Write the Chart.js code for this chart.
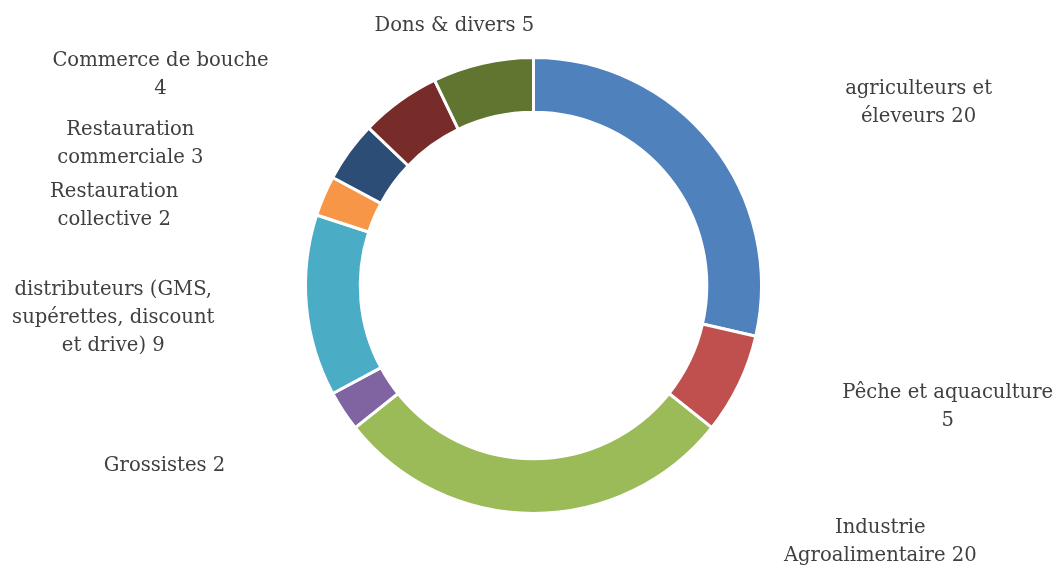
<!DOCTYPE html>
<html>
<head>
<meta charset="utf-8">
<script src="https://cdn.jsdelivr.net/npm/chart.js@4/dist/chart.umd.min.js"></script>
<style>
  html, body { margin: 0; padding: 0; background: #fff; }
  #wrap { width: 1057px; height: 565px; position: relative; }
</style>
</head>
<body>
<div id="wrap"><canvas id="acteursChart"></canvas></div>
<script>
// Catégories d'acteurs et nombre pour chacune
const categories = [
  'agriculteurs et éleveurs',
  'Pêche et aquaculture',
  'Industrie Agroalimentaire',
  'Grossistes',
  'distributeurs (GMS, supérettes, discount et drive)',
  'Restauration collective',
  'Restauration commerciale',
  'Commerce de bouche',
  'Dons & divers'
];
const valeurs = [20, 5, 20, 2, 9, 2, 3, 4, 5];

// Texte des étiquettes, coupé en lignes (la valeur est ajoutée à la fin)
const lignesEtiquettes = [
  ['agriculteurs et', 'éleveurs'],
  ['Pêche et aquaculture', ''],
  ['Industrie', 'Agroalimentaire'],
  ['Grossistes'],
  ['distributeurs (GMS,', 'supérettes, discount', 'et drive)'],
  ['Restauration', 'collective'],
  ['Restauration', 'commerciale'],
  ['Commerce de bouche', ''],
  ['Dons & divers']
];

const couleurs = [
  '#4F81BD', '#C0504D', '#9BBB59', '#8064A2', '#4BACC6',
  '#F79646', '#2C4D75', '#772C2A', '#5F7530'
];

// Position des étiquettes, relative au centre, en rayons
const placeEtiquettes = [
  [1.689, -0.801], [1.817, 0.532], [1.521, 1.124],
  [-1.618, 0.792], [-1.843, 0.143], [-1.839, -0.347],
  [-1.768, -0.620], [-1.636, -0.925], [-0.347, -1.137]
];

const POLICE = '19.6px "DejaVu Serif"';
const INTERLIGNE = 28;

const etiquettesPlugin = {
  id: 'etiquettes',
  afterDatasetsDraw(chart) {
    const ctx = chart.ctx;
    const arc = chart.getDatasetMeta(0).data[0];
    const cx = arc.x, cy = arc.y, r = arc.outerRadius;
    ctx.save();
    ctx.font = POLICE;
    ctx.fillStyle = '#404040';
    ctx.textAlign = 'center';
    ctx.textBaseline = 'middle';
    chart.data.datasets[0].data.forEach((v, i) => {
      const lignes = lignesEtiquettes[i].slice();
      const last = lignes.length - 1;
      lignes[last] = (lignes[last] ? lignes[last] + ' ' : '') + v;
      const x = cx + placeEtiquettes[i][0] * r;
      const y0 = cy + placeEtiquettes[i][1] * r - (lignes.length - 1) * INTERLIGNE / 2;
      lignes.forEach((t, k) => ctx.fillText(t, x, y0 + k * INTERLIGNE));
    });
    ctx.restore();
  }
};

const ctx = document.getElementById('acteursChart').getContext('2d');
new Chart(ctx, {
  type: 'doughnut',
  data: {
    labels: categories,
    datasets: [{
      data: valeurs,
      backgroundColor: couleurs,
      borderColor: '#ffffff',
      borderWidth: 3,
      cutout: '76%'
    }]
  },
  options: {
    responsive: true,
    maintainAspectRatio: false,
    animation: false,
    layout: { padding: { top: 56, bottom: 50, left: 60, right: 50 } },
    plugins: {
      legend: { display: false },
      tooltip: { enabled: false }
    }
  },
  plugins: [etiquettesPlugin]
});
</script>
</body>
</html>
